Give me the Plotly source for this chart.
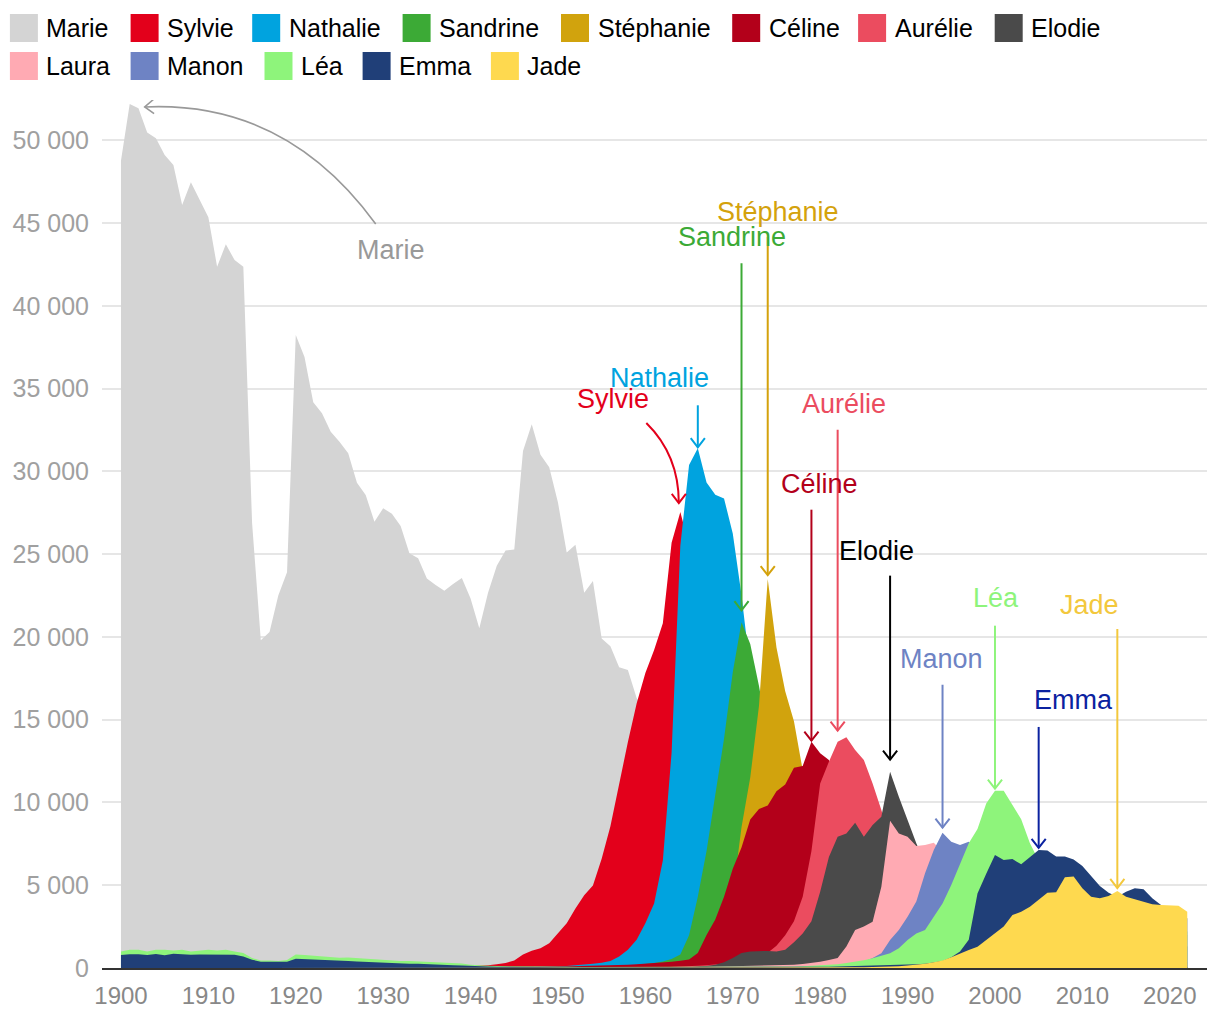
import math
import plotly.graph_objects as go

# ---------------- data ----------------
years = list(range(1900, 2023))
names = ["Marie", "Sylvie", "Nathalie", "Sandrine", "Stéphanie", "Céline",
         "Aurélie", "Elodie", "Laura", "Manon", "Léa", "Emma", "Jade"]

marie = [48760, 52190, 51930, 50470, 50110, 49100, 48500, 46090, 47460, 46390,
         45340, 42360, 43710, 42760, 42360, 26900, 19800, 20300, 22500, 23900,
         38230, 36900, 34170, 33500, 32390, 31790, 31090, 29310, 28570, 26960,
         27770, 27440, 26690, 25050, 24750, 23530, 23130, 22790, 23200, 23550,
         22320, 20520, 22670, 24290, 25220, 25270, 31230, 32850, 31000, 30240,
         28110, 25100, 25560, 22670, 23370, 19900, 19430, 18160, 18000, 16310,
         15400, 13500, 11800, 10000, 8400, 7000, 5800, 4800, 4000, 3400,
         3000, 2700, 2500, 2300, 2200, 2100, 2000, 1950, 1900, 1850,
         1800, 1750, 1700, 1650, 1600, 1550, 1500, 1500, 1500, 1500,
         1500, 1500, 1550, 1600, 1650, 1700, 1750, 1800, 1850, 1900,
         1950, 2000, 2050, 2100, 2100, 2100, 2100, 2100, 2100, 2100,
         2100, 2100, 2100, 2100, 2100, 2100, 2100, 2100, 2100, 2100,
         2000, 2000, 2000]

sylvie = [0, 0, 0, 0, 0, 0, 0, 0, 0, 0,
          0, 0, 0, 0, 0, 0, 0, 0, 0, 10,
          10, 10, 20, 20, 20, 30, 30, 30, 40, 40,
          50, 50, 60, 60, 70, 70, 80, 90, 100, 110,
          120, 140, 160, 230, 300, 460, 810, 1040, 1200, 1500,
          2080, 2710, 3590, 4400, 4980, 6600, 8560, 11110, 13650, 15970,
          17820, 19210, 20830, 25690, 27540, 25500, 23000, 20000, 17000, 14000,
          11000, 8500, 6500, 5000, 3900, 3000, 2300, 1800, 1400, 1100,
          900, 750, 600, 500, 420, 360, 300, 260, 220, 190,
          160, 140, 120, 100, 90, 80, 70, 60, 55, 50,
          45, 40, 35, 30, 30, 25, 25, 20, 20, 20,
          15, 15, 15, 10, 10, 10, 10, 10, 10, 10,
          10, 10, 10]

nathalie = [0, 0, 0, 0, 0, 0, 0, 0, 0, 0,
            0, 0, 0, 0, 0, 0, 0, 0, 0, 0,
            0, 0, 0, 0, 0, 0, 0, 10, 10, 10,
            10, 10, 10, 20, 20, 20, 20, 30, 30, 30,
            30, 40, 40, 50, 50, 60, 60, 70, 70, 80,
            90, 120, 150, 200, 250, 320, 420, 700, 1100, 1700,
            2700, 3900, 6500, 13000, 25500, 30380, 31390, 29320, 28580, 28360,
            26240, 22530, 18000, 14000, 10500, 7800, 5800, 4300, 3200, 2400,
            1800, 1400, 1100, 900, 750, 600, 500, 420, 350, 300,
            250, 220, 190, 160, 140, 120, 110, 100, 90, 80,
            70, 60, 55, 50, 45, 40, 35, 30, 30, 25,
            25, 20, 20, 20, 15, 15, 15, 10, 10, 10,
            10, 10, 10]

sandrine = [0, 0, 0, 0, 0, 0, 0, 0, 0, 0,
            0, 0, 0, 0, 0, 0, 0, 0, 0, 0,
            0, 0, 0, 0, 0, 0, 0, 0, 0, 0,
            0, 0, 0, 0, 0, 0, 0, 0, 10, 10,
            10, 10, 10, 10, 20, 20, 20, 20, 30, 30,
            40, 40, 50, 60, 70, 80, 100, 120, 150, 180,
            220, 300, 400, 550, 810, 1980, 4310, 7070, 10460, 13840,
            17870, 20880, 19570, 17030, 14000, 11000, 8500, 6500, 5000, 3800,
            3000, 2400, 1900, 1500, 1200, 1000, 800, 650, 550, 450,
            380, 320, 270, 230, 200, 170, 150, 130, 110, 100,
            90, 80, 70, 60, 50, 45, 40, 35, 30, 30,
            25, 25, 20, 20, 20, 15, 15, 15, 10, 10,
            10, 10, 10]

stephanie = [0, 0, 0, 0, 0, 0, 0, 0, 0, 0,
             0, 0, 0, 0, 0, 0, 0, 0, 0, 0,
             0, 0, 0, 0, 0, 0, 0, 0, 0, 0,
             0, 0, 0, 0, 0, 0, 0, 0, 0, 0,
             0, 0, 0, 0, 0, 10, 10, 10, 10, 20,
             20, 20, 30, 30, 40, 50, 60, 70, 90, 110,
             130, 160, 200, 250, 320, 420, 600, 900, 1400, 2400,
             4400, 8500, 11500, 15840, 23490, 19360, 16710, 14900, 12040, 9000,
             7000, 5500, 4300, 3400, 2700, 2100, 1700, 1400, 1100, 900,
             750, 620, 520, 440, 370, 310, 260, 220, 190, 160,
             140, 120, 100, 90, 80, 70, 60, 50, 45, 40,
             35, 30, 30, 25, 25, 20, 20, 20, 15, 15,
             15, 10, 10]

celine = [0, 0, 0, 0, 0, 0, 0, 0, 0, 0,
          0, 0, 0, 0, 0, 0, 0, 0, 0, 0,
          0, 0, 0, 0, 0, 0, 0, 0, 0, 0,
          0, 0, 0, 0, 0, 0, 0, 0, 0, 0,
          10, 10, 20, 20, 30, 30, 40, 50, 60, 70,
          80, 90, 100, 110, 120, 140, 160, 180, 200, 230,
          260, 290, 330, 380, 440, 520, 900, 2000, 2930, 4310,
          6000, 7280, 8970, 9610, 9820, 10670, 11090, 12100, 12200, 13670,
          12970, 12560, 11500, 10200, 8800, 7500, 6300, 5200, 4300, 3500,
          2900, 2400, 2000, 1600, 1300, 1050, 850, 700, 550, 450,
          380, 320, 270, 230, 200, 170, 150, 130, 110, 100,
          90, 80, 70, 60, 55, 50, 45, 40, 35, 30,
          30, 25, 25]

aurelie = [0, 0, 0, 0, 0, 0, 0, 0, 0, 0,
           0, 0, 0, 0, 0, 0, 0, 0, 0, 0,
           0, 0, 0, 0, 0, 0, 0, 0, 0, 0,
           0, 0, 0, 0, 0, 0, 0, 0, 0, 0,
           0, 0, 0, 0, 0, 0, 0, 0, 0, 0,
           0, 0, 0, 0, 10, 10, 10, 20, 20, 20,
           30, 40, 50, 60, 80, 100, 130, 160, 200, 250,
           320, 400, 520, 700, 920, 1340, 1980, 2830, 4310, 7070,
           11150, 12460, 13670, 13930, 13170, 12560, 11150, 9540, 7800, 6300,
           5000, 4000, 3200, 2600, 2100, 1700, 1400, 1150, 950, 800,
           650, 550, 470, 400, 340, 290, 250, 210, 180, 160,
           140, 120, 110, 100, 90, 80, 70, 60, 55, 50,
           45, 40, 40]

elodie = [0, 0, 0, 0, 0, 0, 0, 0, 0, 0,
          0, 0, 0, 0, 0, 0, 0, 0, 0, 0,
          0, 0, 0, 0, 0, 0, 0, 0, 0, 0,
          0, 0, 0, 0, 0, 0, 0, 0, 0, 0,
          0, 0, 0, 0, 0, 0, 0, 0, 0, 0,
          0, 0, 0, 0, 10, 10, 10, 20, 20, 20,
          20, 30, 30, 40, 40, 50, 80, 120, 200, 350,
          600, 900, 1000, 1030, 1030, 1000, 1100, 1550, 2080, 2830,
          4600, 6700, 7920, 8130, 8780, 7930, 8640, 9140, 11860, 10350,
          8940, 7530, 6300, 5200, 4300, 3500, 2900, 2400, 2000, 1650,
          1350, 1100, 900, 750, 600, 500, 420, 350, 300, 250,
          210, 180, 160, 140, 120, 110, 100, 90, 80, 70,
          60, 60, 50]

laura = [0, 0, 0, 0, 0, 0, 0, 0, 0, 0,
         0, 0, 0, 0, 0, 0, 0, 0, 0, 0,
         0, 0, 0, 0, 0, 0, 0, 0, 0, 0,
         0, 0, 0, 0, 0, 0, 0, 0, 0, 0,
         0, 0, 0, 0, 0, 0, 0, 0, 0, 0,
         0, 0, 0, 0, 10, 10, 10, 10, 10, 10,
         20, 20, 30, 30, 40, 50, 60, 70, 80, 90,
         100, 110, 120, 130, 140, 150, 170, 200, 240, 290,
         380, 480, 600, 1300, 2300, 2500, 2800, 4910, 8900, 8130,
         7930, 7370, 7430, 7570, 7000, 6200, 5500, 4800, 4100, 3500,
         3000, 2600, 2200, 1900, 1600, 1400, 1200, 1050, 950, 850,
         780, 720, 660, 610, 570, 530, 500, 470, 440, 420,
         400, 380, 360]

manon = [0, 0, 0, 0, 0, 0, 0, 0, 0, 0,
         0, 0, 0, 0, 0, 0, 0, 0, 0, 0,
         0, 0, 0, 0, 0, 0, 0, 0, 0, 0,
         0, 0, 0, 0, 0, 0, 0, 0, 0, 0,
         0, 0, 0, 0, 0, 0, 0, 0, 0, 0,
         0, 0, 0, 0, 0, 0, 0, 0, 0, 0,
         10, 10, 10, 10, 10, 10, 10, 10, 10, 10,
         20, 20, 30, 30, 40, 40, 50, 60, 70, 80,
         100, 120, 150, 200, 250, 400, 600, 890, 1690, 2300,
         3100, 4010, 5720, 7130, 8170, 7630, 7430, 7630, 7200, 6500,
         5900, 5400, 5000, 4600, 4200, 3900, 3600, 3400, 3200, 3000,
         2800, 2600, 2450, 2300, 2150, 2000, 1900, 1800, 1700, 1600,
         1500, 1400, 1300]

lea = [1000, 1100, 1100, 1000, 1100, 1100, 1050, 1100, 1000, 1050,
       1100, 1050, 1100, 1000, 900, 600, 450, 450, 430, 480,
       820, 780, 750, 700, 650, 620, 640, 600, 600, 540,
       500, 460, 430, 420, 400, 380, 330, 300, 290, 270,
       200, 150, 130, 120, 110, 100, 100, 90, 90, 80,
       80, 70, 70, 60, 60, 60, 50, 50, 50, 50,
       50, 50, 50, 50, 50, 50, 50, 50, 50, 50,
       50, 50, 50, 60, 60, 70, 80, 90, 100, 120,
       150, 180, 220, 300, 380, 470, 590, 740, 890, 1190,
       1690, 2090, 2300, 3100, 3900, 5010, 6320, 7530, 8400, 9940,
       10710, 10710, 9850, 8980, 7530, 6500, 6000, 5600, 5200, 4900,
       4600, 4300, 4000, 3800, 3600, 3400, 3200, 3000, 2800, 2600,
       2400, 2300, 2200]

emma = [780, 830, 830, 780, 850, 770, 860, 820, 800, 810,
        810, 790, 800, 800, 700, 500, 380, 370, 360, 370,
        560, 530, 500, 470, 440, 410, 420, 400, 370, 340,
        310, 290, 270, 260, 250, 240, 220, 190, 170, 150,
        120, 100, 90, 80, 70, 60, 60, 50, 50, 50,
        40, 40, 40, 40, 40, 40, 40, 40, 40, 40,
        40, 40, 40, 40, 40, 40, 40, 40, 40, 40,
        40, 40, 40, 50, 50, 50, 60, 60, 70, 70,
        80, 80, 90, 100, 110, 120, 130, 140, 150, 170,
        190, 220, 260, 320, 420, 650, 1000, 1700, 4500, 5700,
        6830, 6520, 6580, 6260, 6680, 7130, 7090, 6730, 6730, 6560,
        6160, 5520, 4950, 4550, 4310, 4610, 4810, 4750, 4210, 3800,
        3300, 3200, 3000]

jade = [0, 0, 0, 0, 0, 0, 0, 0, 0, 0,
        0, 0, 0, 0, 0, 0, 0, 0, 0, 0,
        0, 0, 0, 0, 0, 0, 0, 0, 0, 0,
        0, 0, 0, 0, 0, 0, 0, 0, 0, 0,
        0, 0, 0, 0, 0, 0, 0, 0, 0, 0,
        0, 0, 0, 0, 0, 0, 0, 0, 0, 0,
        0, 0, 0, 0, 0, 0, 0, 0, 0, 0,
        10, 10, 10, 10, 10, 10, 10, 10, 10, 10,
        20, 20, 30, 30, 40, 50, 60, 70, 90, 110,
        150, 200, 250, 350, 450, 650, 890, 1090, 1290, 1690,
        2050, 2500, 3200, 3400, 3700, 4110, 4550, 4570, 5480, 5520,
        4810, 4310, 4210, 4350, 4650, 4310, 4150, 4010, 3850, 3800,
        3800, 3760, 3400]

series_values = [marie, sylvie, nathalie, sandrine, stephanie, celine,
                 aurelie, elodie, laura, manon, lea, emma, jade]

# years that the labelled arrows point at
annot_years = {"Marie": 1901, "Sylvie": 1964, "Nathalie": 1966, "Sandrine": 1971,
               "Stéphanie": 1974, "Céline": 1979, "Aurélie": 1982, "Elodie": 1988,
               "Manon": 1994, "Léa": 2000, "Emma": 2005, "Jade": 2014}

x_tick_vals = [1900, 1910, 1920, 1930, 1940, 1950, 1960, 1970, 1980, 1990, 2000, 2010, 2020]
x_tick_text = ["1900", "1910", "1920", "1930", "1940", "1950", "1960", "1970",
               "1980", "1990", "2000", "2010", "2020"]
y_tick_vals = [0, 5000, 10000, 15000, 20000, 25000, 30000, 35000, 40000, 45000, 50000]
y_tick_text = ["0", "5 000", "10 000", "15 000", "20 000", "25 000", "30 000",
               "35 000", "40 000", "45 000", "50 000"]

for v in series_values:
    assert len(v) == len(years)

# ---------------- styles / layout ----------------
FONT = "Liberation Sans, Arial, Helvetica, sans-serif"
fill_colors = ["#d4d4d4", "#e3001b", "#00a3df", "#3caa36", "#d1a30d", "#b3001a",
               "#eb4c5f", "#4a4a4a", "#ffaab3", "#6e83c4", "#8ef47b", "#203f78", "#fed94f"]
label_colors = {"Marie": "#999999", "Sylvie": "#e3001b", "Nathalie": "#00a3df",
                "Sandrine": "#3caa36", "Stéphanie": "#d4a20c", "Céline": "#b3001a",
                "Aurélie": "#eb4c5f", "Elodie": "#000000", "Manon": "#6e83c4",
                "Léa": "#8ef47b", "Emma": "#0b22a0", "Jade": "#f3c83d"}

# page geometry (the html body adds an 8px margin around the figure)
BODY = 8
W, H = 1220 - 2 * BODY, 1020 - 2 * BODY
PL, PT, PR, PB = 102, 100, 1207, 968   # plot area in page pixels
ML, MT = PL - BODY, PT - BODY
MR, MB = W - (PR - BODY), H - (PB - BODY)
PW, PH = PR - PL, PB - PT

# label centre offsets (px, up positive) from the pointed data point
label_offset = {"Marie": (261, -146), "Sylvie": (-67, 113), "Nathalie": (-38, 70),
                "Sandrine": (-10, 385), "Stéphanie": (10, 367), "Céline": (8, 258),
                "Aurélie": (6, 338), "Elodie": (-14, 221), "Manon": (-1, 174),
                "Léa": (1, 193), "Emma": (35, 150), "Jade": (-28, 286)}
# straight arrows: (gap above point at tip, height of tail above point)
straight_arrow = {"Nathalie": (1, 43), "Sandrine": (12, 359), "Stéphanie": (4, 342),
                  "Céline": (1, 232), "Aurélie": (11, 312), "Elodie": (12, 196),
                  "Manon": (5, 148), "Léa": (2, 165), "Emma": (2, 123), "Jade": (3, 262)}
# curved arrows: start, control, tip in px relative to the pointed data point
curved_arrow = {"Marie": ((246, -120), (156, 3.5), (15, -3)),
                "Sylvie": ((-34, 89), (-1.5, 57), (-1.5, 9))}

legend_rows = [(14, [9.9, 130.6, 252.2, 402.6, 561.0, 732.2, 858.1, 994.7]),
               (52, [9.9, 130.6, 264.5, 362.6, 490.9])]
SW = 28


def fx(px):
    return (px - PL) / PW


def fy(py):
    return (PB - py) / PH


fig = go.Figure()
for name, vals, col in zip(names, series_values, fill_colors):
    fig.add_trace(go.Scatter(
        x=years, y=vals, name=name, mode="lines",
        line=dict(width=0, color=col), fill="tozeroy", fillcolor=col,
        showlegend=False, hovertemplate="%{x}: %{y}<extra>" + name + "</extra>"))

shapes = []
annotations = []

# manual legend (square swatches)
idx = 0
for top, xs in legend_rows:
    for sx in xs:
        nm = names[idx]
        col = fill_colors[idx]
        shapes.append(dict(type="rect", xref="paper", yref="paper",
                           x0=fx(sx), x1=fx(sx + SW), y0=fy(top + SW), y1=fy(top),
                           fillcolor=col, line=dict(width=0), layer="above"))
        annotations.append(dict(xref="paper", yref="paper", x=fx(sx + SW + 6.5),
                                y=fy(top + SW / 2), text=nm, showarrow=False,
                                xanchor="left", yanchor="middle",
                                font=dict(family=FONT, size=25, color="#000000")))
        idx += 1


def vhead(tip, frm, length=11.5, ang=38):
    dx, dy = tip[0] - frm[0], tip[1] - frm[1]
    n = math.hypot(dx, dy)
    ux, uy = dx / n, dy / n
    pts = []
    for s in (1, -1):
        a = math.radians(ang * s)
        rx = ux * math.cos(a) - uy * math.sin(a)
        ry = ux * math.sin(a) + uy * math.cos(a)
        pts.append((tip[0] - length * rx, tip[1] - length * ry))
    return "M{:.2f},{:.2f} L{:.2f},{:.2f} L{:.2f},{:.2f}".format(
        pts[0][0], pts[0][1], tip[0], tip[1], pts[1][0], pts[1][1])


def px_shape(xa, ya, path, color, width):
    return dict(type="path", xref="x", yref="y", xsizemode="pixel", ysizemode="pixel",
                xanchor=xa, yanchor=ya, path=path,
                line=dict(color=color, width=width), fillcolor="rgba(0,0,0,0)",
                layer="above")


for nm, yr in annot_years.items():
    vals = series_values[names.index(nm)]
    val = vals[years.index(yr)]
    col = label_colors[nm]
    lw = 1.6 if nm == "Marie" else 2
    if nm in straight_arrow:
        gap, tail = straight_arrow[nm]
        shapes.append(px_shape(yr, val, "M0,{} L0,{}".format(tail, gap), col, lw))
        shapes.append(px_shape(yr, val, vhead((0, gap), (0, tail)), col, lw))
    else:
        start, ctrl, tip = curved_arrow[nm]
        path = "M{},{} Q{},{} {},{}".format(start[0], start[1], ctrl[0], ctrl[1], tip[0], tip[1])
        shapes.append(px_shape(yr, val, path, col, lw))
        shapes.append(px_shape(yr, val, vhead(tip, ctrl), col, lw))
    dx, dy = label_offset[nm]
    annotations.append(dict(xref="x", yref="y", x=yr, y=val, xshift=dx, yshift=dy,
                            text=nm, showarrow=False, xanchor="center", yanchor="middle",
                            font=dict(family=FONT, size=27, color=col)))

fig.update_layout(
    width=W, height=H,
    margin=dict(l=ML, r=MR, t=MT, b=MB, pad=0, autoexpand=False),
    paper_bgcolor="white", plot_bgcolor="white",
    font=dict(family=FONT),
    showlegend=False,
    shapes=shapes, annotations=annotations,
    xaxis=dict(range=[1897.83, 2024.26], tickmode="array", tickvals=x_tick_vals,
               ticktext=x_tick_text, showgrid=False, zeroline=False, automargin=False,
               showline=True, linecolor="#333333", linewidth=2, ticks="",
               ticklabelstandoff=5,
               tickfont=dict(family=FONT, size=24, color="#888888")),
    yaxis=dict(range=[0, PH * 60.4], tickmode="array", tickvals=y_tick_vals,
               ticktext=y_tick_text, showgrid=True, gridcolor="#e6e6e6", gridwidth=2,
               zeroline=False, showline=False, ticks="", ticklabelstandoff=12,
               automargin=False,
               tickfont=dict(family=FONT, size=25, color="#a0a0a0")),
)

fig.write_html("out.html")
